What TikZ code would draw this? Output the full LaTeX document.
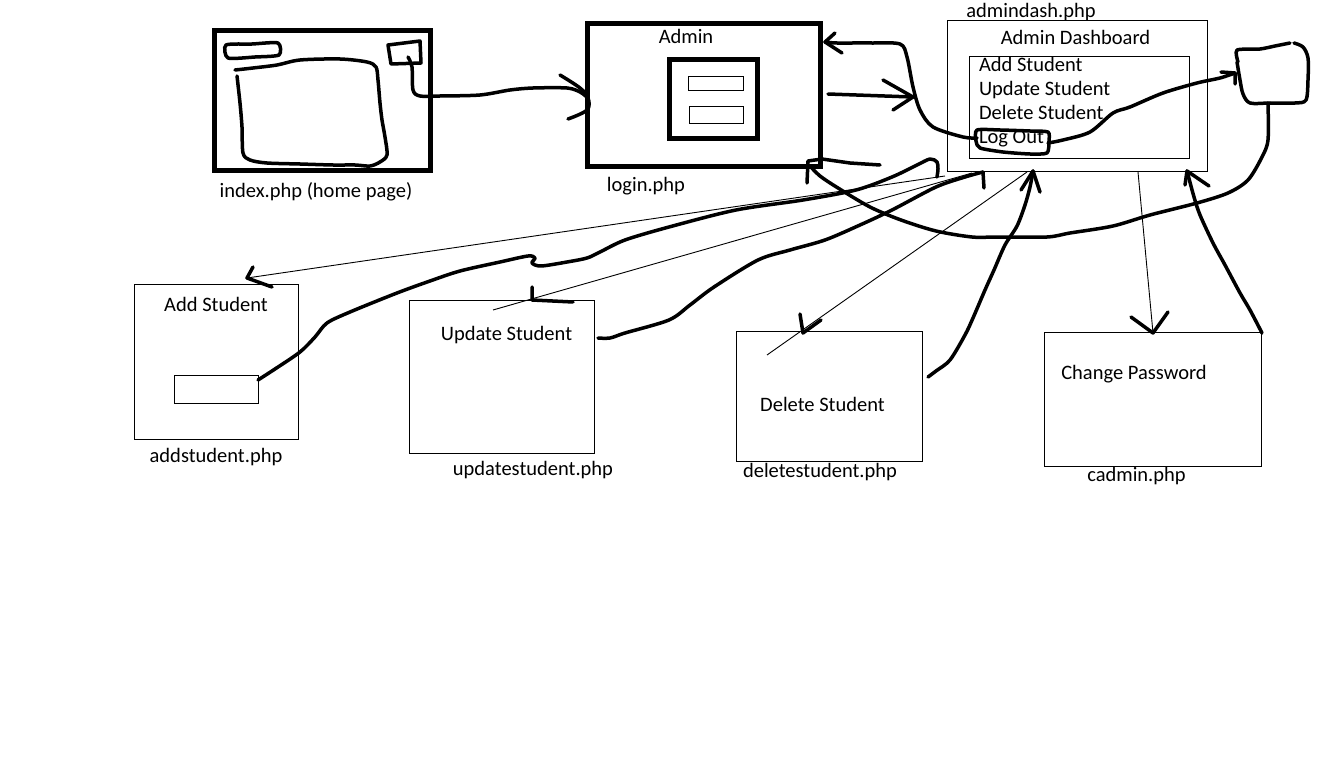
\documentclass[tikz,border=0pt]{standalone}
\usepackage{fontspec}
\setmainfont{Carlito}
\begin{document}
\begin{tikzpicture}[x=1pt,y=-1pt,
  every node/.style={inner sep=0pt, outer sep=0pt},
  lbl/.style={font=\fontsize{20.5}{24}\selectfont, anchor=base},
  item/.style={font=\fontsize{20.5}{24}\selectfont, anchor=base west},
  frame/.style={draw, line width=5pt},
  page/.style={draw, line width=1pt},
  pen/.style={line width=3.5pt, line cap=round, line join=round},
  hair/.style={line width=0.9pt},
]
\useasboundingbox[fill=white] (0,0) rectangle (1342,765);

% ---------- home page ----------
\node[frame, minimum width=216pt, minimum height=140pt] (index) at (322.5,100.5) {};
\node[lbl] (indexlbl) at (316,197) {index.php (home page)};
% header bar, login button and content area sketched inside
\draw[pen] plot[smooth cycle, tension=0.4] coordinates {(226,45) (252,44) (278,43) (279,55) (255,57) (228,58)};
\draw[pen] (388,45) -- (420,41) -- (421,63) -- (391,64) -- cycle;
\draw[pen] plot[smooth, tension=0.5] coordinates {(235,70) (253,68) (277,65) (300,60) (340,59) (367,62) (376,67) (378,80) (380,103) (382,120) (385,137) (387,155) (380,162) (370,166) (355,165) (333,165) (300,164) (267,163) (250,160) (243,153) (242,127) (240,103) (237,76)};

% ---------- login page ----------
\node[frame, minimum width=233pt, minimum height=143pt] (login) at (704,95) {};
\node[lbl] (admintitle) at (686,44) {Admin};
\node[frame, minimum width=88pt, minimum height=79pt] (form) at (713.5,99) {};
\node[page, minimum width=55pt, minimum height=14pt] (user) at (715.5,84) {};
\node[page, minimum width=54pt, minimum height=17pt] (pass) at (716,115.5) {};
\node[lbl] (loginlbl) at (646,191) {login.php};

% ---------- admin dashboard ----------
\node[page, minimum width=260pt, minimum height=151pt] (dash) at (1077,96.5) {};
\node[lbl] (dashlbl) at (1031,18) {admindash.php};
\node[lbl] (dashtitle) at (1075.5,45) {Admin Dashboard};
\node[page, minimum width=220pt, minimum height=102pt] (menu) at (1079,108) {};
\node[item] (madd) at (979,72) {Add Student};
\node[item] (mupd) at (979,96) {Update Student};
\node[item] (mdel) at (979,120) {Delete Student};
\node[item] (mout) at (979,144) {Log Out};
\draw[pen] plot[smooth cycle, tension=0.4] coordinates {(977,130) (1000,130) (1030,131) (1048,132) (1049,141) (1047,153) (1030,154) (1003,152) (980,148) (976,141)};

% logged-out page sketched on the right
\draw[pen] plot[smooth, tension=0.4] coordinates {(1238,62) (1237,50) (1260,49) (1275,46) (1290,43)};
\draw[pen] plot[smooth, tension=0.5] coordinates {(1294,43) (1303,47) (1308,58) (1308,80) (1306,100) (1295,103) (1270,103) (1250,103) (1243,94) (1240,80) (1237,62)};

% ---------- student pages ----------
\node[page, minimum width=164pt, minimum height=155pt] (addst) at (216,361.5) {};
\node[lbl] (addtitle) at (216,311) {Add Student};
\node[page, minimum width=84pt, minimum height=28pt] (addfield) at (216,389) {};
\node[lbl] (addlbl) at (216,462) {addstudent.php};

\node[page, minimum width=185pt, minimum height=153pt] (updst) at (501.5,376.5) {};
\node[lbl] (updtitle) at (506.5,340) {Update Student};
\node[lbl] (updlbl) at (533,475) {updatestudent.php};

\node[page, minimum width=186pt, minimum height=130pt] (delst) at (829,396) {};
\node[lbl] (deltitle) at (822.5,411) {Delete Student};
\node[lbl] (dellbl) at (820,477) {deletestudent.php};

\node[page, minimum width=217pt, minimum height=134pt] (cadm) at (1153.3,399) {};
\node[lbl] (cadtitle) at (1134,379) {Change Password};
\node[lbl] (cadlbl) at (1136.5,481) {cadmin.php};

% ---------- connector end points ----------
\coordinate (idxbtn) at (408,57);
\coordinate (loginW) at (588,98);
\coordinate (loginE) at (825,42);
\coordinate (loginR) at (828,94);
\coordinate (dashW) at (913,97);
\coordinate (outW) at (977,138);
\coordinate (outE) at (1048,143);
\coordinate (exitW) at (1235,73);
\coordinate (exitS) at (1268,103);
\coordinate (loginSE) at (810,166);
\coordinate (fieldE) at (258,380);
\coordinate (dashA) at (937,162);
\coordinate (updE) at (598,338);
\coordinate (dashB) at (983,172);
\coordinate (delE) at (928,377);
\coordinate (dashC) at (1033,171);
\coordinate (cadNE) at (1262,333);
\coordinate (dashD) at (1187,171);
\coordinate (tAdd) at (247,278);
\coordinate (tUpd) at (532,300);
\coordinate (tDel) at (803,333);
\coordinate (tCad) at (1153,333);

% index -> login
\draw[pen] plot[smooth, tension=0.5] coordinates {(idxbtn) (412,67) (413,90) (420,96) (440,96) (480,95) (510,90) (533,88) (567,88) (580,92) (loginW)};
\draw[pen] plot[smooth, tension=0.6] coordinates {(560,75) (580,88) (loginW) (587,110) (568,119)};

% login -> dashboard
\draw[pen] (loginR) -- (dashW);
\draw[pen] (883,80) -- (dashW) -- (893,110);

% log out -> login
\draw[pen] plot[smooth, tension=0.5] coordinates {(outW) (963,137) (933,127) (920,110) (913,87) (907,57) (900,44) (870,43) (837,43) (loginE)};
\draw[pen] (835,33) -- (loginE) -- (842,53);

% log out -> logged-out page
\draw[pen] plot[smooth, tension=0.5] coordinates {(outE) (1063,140) (1090,132) (1113,113) (1130,107) (1163,93) (1197,83) (1220,78) (exitW)};
\draw[pen] (1221,72) -- (exitW) -- (1235,84);

% logged-out page -> login
\draw[pen] plot[smooth, tension=0.5] coordinates {(exitS) (1268,140) (1262,157) (1248,180) (1228,193) (1197,203) (1150,215) (1113,226) (1070,233) (1047,237) (997,237) (972,237) (936,231) (901,220) (870,207) (838,188) (820,176) (loginSE)};
\draw[pen] (807,183) -- (808,161) -- (822,159) -- (850,163) -- (880,165);

% add student -> dashboard
\draw[pen] plot[smooth, tension=0.5] coordinates {(fieldE) (275,369) (300,352) (315,337) (327,323) (350,312) (397,293) (430,281) (460,271) (500,262) (528,256) (535,258) (532,263) (541,266) (567,262) (587,258) (600,252) (625,240) (669,227) (736,210) (803,200) (856,190) (892,177) (917,165) (930,159) (dashA) (938,169) (937,177)};

% update student -> dashboard
\draw[pen] plot[smooth, tension=0.5] coordinates {(updE) (610,338) (625,333) (669,320) (690,305) (714,287) (758,260) (790,250) (825,240) (860,225) (892,210) (936,187) (965,177) (dashB)};
\draw[pen] (dashB) -- (984,188);

% delete student -> dashboard
\draw[pen] plot[smooth, tension=0.5] coordinates {(delE) (936,371) (950,360) (965,335) (973,318) (985,290) (994,270) (1005,245) (1017,226) (1025,205) (1030,187) (dashC)};
\draw[pen] (1021,190) -- (dashC) -- (1040,192);

% change password -> dashboard
\draw[pen] plot[smooth, tension=0.5] coordinates {(cadNE) (1250,310) (1240,293) (1225,265) (1213,243) (1200,215) (1194,197) (dashD)};
\draw[pen] (1185,185) -- (dashD) -- (1209,186);

% dashboard -> pages (thin links)
\draw[hair] (945,176) -- (tAdd);
\draw[pen] (253,267) -- (tAdd) -- (272,287);

\draw[hair] (972,173) -- (493,310);
\draw[pen] (532,287) -- (tUpd) -- (573,302);

\draw[hair] (1027,172) -- (767,355);
\draw[pen] (800,314) -- (tDel) -- (821,320);

\draw[hair] (1138,172) -- (tCad);
\draw[pen] (1131,317) -- (tCad) -- (1168,312);

\end{tikzpicture}
\end{document}
